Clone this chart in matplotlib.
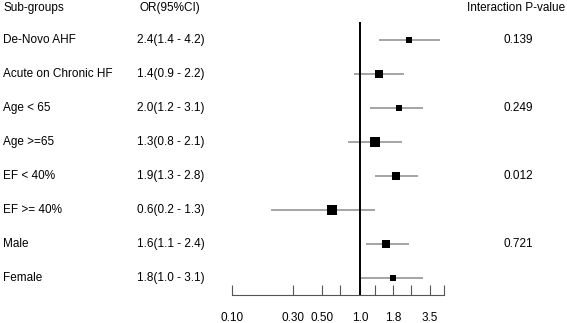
import numpy as np
import matplotlib; matplotlib.use("Agg")
import matplotlib.pyplot as plt
from matplotlib.transforms import blended_transform_factory

plt.rcParams["font.family"] = ["Liberation Sans", "DejaVu Sans"]

# ---------- data ----------
groups = ["De-Novo AHF", "Acute on Chronic HF", "Age < 65", "Age >=65",
          "EF < 40%", "EF >= 40%", "Male", "Female"]
odds = [2.4, 1.4, 2.0, 1.3, 1.9, 0.6, 1.6, 1.8]
lo = [1.4, 0.9, 1.2, 0.8, 1.3, 0.2, 1.1, 1.0]
hi = [4.2, 2.2, 3.1, 2.1, 2.8, 1.3, 2.4, 3.1]
pvals = ["0.139", "", "0.249", "", "0.012", "", "0.721", ""]
weights = [5.3, 8.7, 6.7, 9.3, 8.0, 10.7, 8.7, 6.7]   # box side (px), study weight
ticks = [0.1, 0.3, 0.5, 0.7, 1.0, 1.3, 1.8, 2.5, 3.5, 4.5]
tick_labels = ["0.10", "0.30", "0.50", "", "1.0", "", "1.8", "", "3.5", ""]

W, H, DPI = 567, 323, 100
fig = plt.figure(figsize=(W / DPI, H / DPI), dpi=DPI)
ax = fig.add_axes([232 / W, (H - 295) / H, 212 / W, (295 - 22) / H])
ax.set_xscale("log")
ax.set_xlim(0.1, 4.5)
ax.set_ylim(7.5, -0.53)

ypos = np.arange(len(groups))
ax.hlines(ypos, lo, hi, color="#8c8c8c", lw=1.1, zorder=2)
for y, o, w in zip(ypos, odds, weights):
    ax.plot(o, y, "s", color="black", ms=w * 0.72, mew=0, zorder=3)
ax.axvline(1.0, color="black", lw=1.4, zorder=4)

for s in ["top", "right", "left"]:
    ax.spines[s].set_visible(False)
ax.spines["bottom"].set_color("#555555")
ax.set_yticks([])
ax.set_xticks(ticks)
ax.set_xticklabels(tick_labels)
ax.xaxis.set_minor_locator(plt.NullLocator())
ax.tick_params(axis="x", direction="in", length=7, color="#555555", pad=12, labelsize=8.5)

tr = blended_transform_factory(fig.transFigure, ax.transData)
fs = 8.5
hy = -0.94
fig.text(3 / W, 0, "Sub-groups", transform=tr, fontsize=fs, va="center", ha="left").set_y(hy)
ax.text(140 / W, hy, "OR(95%CI)", transform=tr, fontsize=fs, va="center", ha="left", clip_on=False)
ax.text(565 / W, hy, "Interaction P-value", transform=tr, fontsize=fs, va="center", ha="right", clip_on=False)
for y, g, o, l, h, p in zip(ypos, groups, odds, lo, hi, pvals):
    ax.text(3 / W, y, g, transform=tr, fontsize=fs, va="center", ha="left", clip_on=False)
    ax.text(137 / W, y, f"{o:.1f}({l:.1f} - {h:.1f})", transform=tr, fontsize=fs,
            va="center", ha="left", clip_on=False)
    if p:
        ax.text(504 / W, y, p, transform=tr, fontsize=fs, va="center", ha="left", clip_on=False)

fig.savefig("out.png", dpi=DPI)
